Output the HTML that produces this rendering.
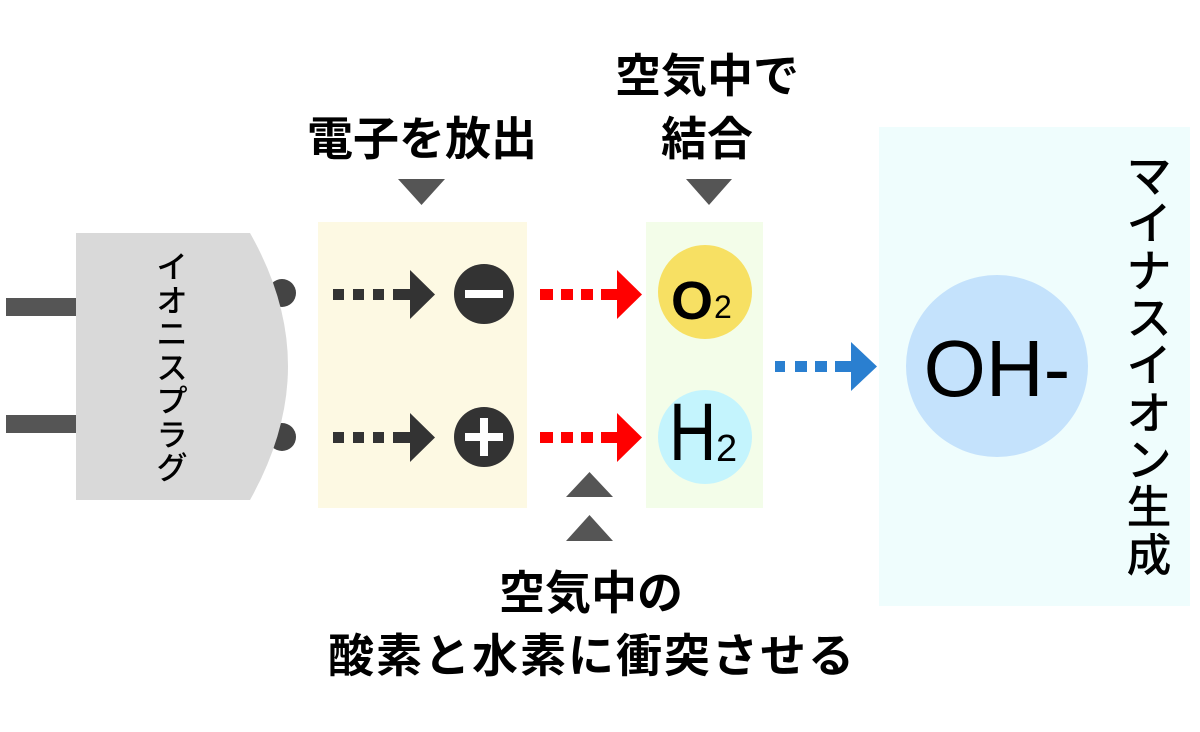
<!DOCTYPE html>
<html><head><meta charset="utf-8"><style>
html,body{margin:0;padding:0;background:#fff;}
svg{display:block;}
text{font-family:"Liberation Sans","Noto Sans CJK JP",sans-serif;}
.j{font-family:"Noto Sans CJK JP",sans-serif;font-weight:bold;}
</style></head><body>
<svg width="1200" height="732" viewBox="0 0 1200 732" xmlns="http://www.w3.org/2000/svg">
<rect x="318" y="222" width="209" height="286" fill="#fdf9e3"/>
<rect x="646" y="222" width="117" height="286" fill="#f3fde9"/>
<rect x="879" y="127" width="311" height="479" fill="#effdfd"/>
<rect x="6" y="298" width="72" height="18" fill="#555"/>
<rect x="6" y="415" width="72" height="18" fill="#555"/>
<circle cx="282" cy="293" r="14" fill="#444"/>
<circle cx="282" cy="437" r="14" fill="#444"/>
<path d="M76 233 L250 233 Q288 300 288 366 Q288 432 250 500 L76 500 Z" fill="#d9d9d9"/>
<g class="j" font-size="31" text-anchor="middle" fill="#000" style="font-weight:500">
<text x="172" y="278">イ</text><text x="172" y="312">オ</text><text x="172" y="345">ニ</text><text x="172" y="379">ス</text><text x="172" y="412">プ</text><text x="172" y="446">ラ</text><text x="172" y="479">グ</text>
</g>
<g fill="#333">
<rect x="333" y="289" width="11" height="11"/><rect x="353" y="289" width="11" height="11"/><rect x="373" y="289" width="11" height="11"/><rect x="393" y="289" width="18" height="11"/>
<polygon points="410,270 435,294.5 410,319"/>
<rect x="333" y="432" width="11" height="11"/><rect x="353" y="432" width="11" height="11"/><rect x="373" y="432" width="11" height="11"/><rect x="393" y="432" width="18" height="11"/>
<polygon points="410,413 435,437.5 410,462"/>
<circle cx="484" cy="294" r="30"/>
<circle cx="484" cy="437" r="30"/>
</g>
<rect x="465" y="290" width="38" height="8" fill="#fff"/>
<rect x="465" y="433" width="38" height="8" fill="#fff"/>
<rect x="480" y="418" width="8" height="38" fill="#fff"/>
<g fill="#ff0000">
<rect x="540" y="289" width="13" height="11"/><rect x="561" y="289" width="12" height="11"/><rect x="581" y="289" width="12" height="11"/><rect x="601" y="289" width="17" height="11"/>
<polygon points="617,270 642,294.5 617,319"/>
<rect x="540" y="432" width="13" height="11"/><rect x="561" y="432" width="12" height="11"/><rect x="581" y="432" width="12" height="11"/><rect x="601" y="432" width="17" height="11"/>
<polygon points="617,413 642,437.5 617,462"/>
</g>
<circle cx="705" cy="292" r="47" fill="#f7e063"/>
<circle cx="705" cy="437" r="47" fill="#c4f4fd"/>
<text transform="translate(671,319) scale(1.0,1)" font-size="54" font-weight="bold" fill="#000">O</text>
<text x="714" y="318" font-size="32" fill="#000">2</text>
<text transform="translate(669,460) scale(0.8,1)" font-size="82" fill="#000">H</text>
<text x="716" y="461" font-size="38" fill="#000">2</text>
<g fill="#2a7fd0">
<rect x="775" y="361" width="10" height="11"/><rect x="795" y="361" width="12" height="11"/><rect x="815" y="361" width="12" height="11"/><rect x="835" y="361" width="17" height="11"/>
<polygon points="851,342 877,366.5 851,391"/>
</g>
<circle cx="997" cy="366" r="91" fill="#c4e2fc"/>
<text x="997" y="396" font-size="80" text-anchor="middle" fill="#000">OH-</text>
<g fill="#555">
<polygon points="398,179 445,179 421.5,205"/>
<polygon points="686,179 732,179 709,205"/>
<polygon points="566,497 613,497 589.5,472"/>
<polygon points="566,541 613,541 589.5,515"/>
</g>
<g class="j" font-size="46" text-anchor="middle" fill="#000">
<text x="422" y="155">電子を放出</text>
<text x="707" y="92">空気中で</text>
<text x="707" y="155">結合</text>
<text x="591" y="609">空気中の</text>
<text x="592" y="672" letter-spacing="2">酸素と水素に衝突させる</text>
</g>
<g class="j" font-size="45" text-anchor="middle" fill="#000" style="font-weight:500">
<text x="1149" y="192">マ</text><text x="1149" y="239">イ</text><text x="1149" y="287">ナ</text><text x="1149" y="334">ス</text><text x="1149" y="381">イ</text><text x="1149" y="429">オ</text><text x="1149" y="476">ン</text><text x="1149" y="523">生</text><text x="1149" y="571">成</text>
</g>
</svg>
</body></html>
